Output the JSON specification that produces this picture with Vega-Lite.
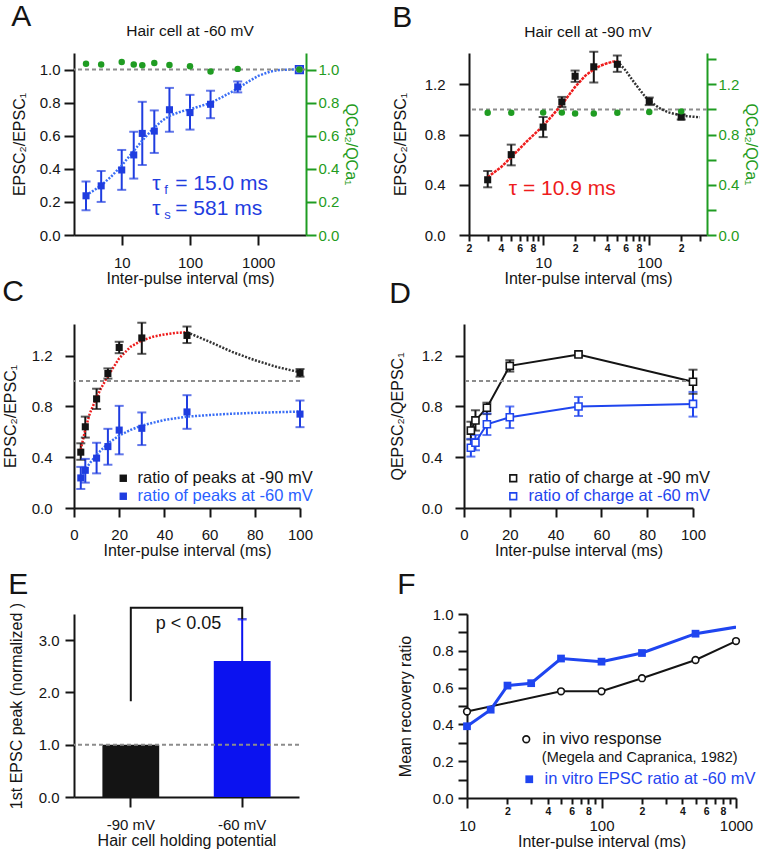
{
"$schema": "https://vega.github.io/schema/vega-lite/v6.json",
"padding": {"left": 2, "top": 2, "right": 0, "bottom": 0},
"background": "white",
"config": {
  "font": "Liberation Sans",
  "view": {"stroke": null},
  "axis": {"labelFont": "Liberation Sans", "titleFont": "Liberation Sans", "labelFontSize": 15, "titleFontSize": 16, "titleFontWeight": "normal", "labelColor": "#141414", "titleColor": "#141414", "domainColor": "#141414", "tickColor": "#141414", "domainWidth": 2, "tickWidth": 2, "tickSize": 9, "labelPadding": 4, "titlePadding": 10, "grid": false, "labelOverlap": false, "labelFlush": false, "labelBound": false},
  "title": {"font": "Liberation Sans", "fontSize": 30, "fontWeight": "normal", "anchor": "start", "color": "#141414", "offset": -2},
  "legend": {"labelFont": "Liberation Sans", "labelFontSize": 16.5, "padding": 0, "labelLimit": 400, "title": null, "symbolSize": 55},
  "text": {"font": "Liberation Sans"}
},
"datasets": {
  "peaks": [
    {"ipi": 3, "r": 0.44, "lo": 0.38, "hi": 0.51, "s": "ratio of peaks at -90 mV"},
    {"ipi": 5, "r": 0.64, "lo": 0.555, "hi": 0.72, "s": "ratio of peaks at -90 mV"},
    {"ipi": 10, "r": 0.86, "lo": 0.78, "hi": 0.94, "s": "ratio of peaks at -90 mV"},
    {"ipi": 15, "r": 1.06, "lo": 1.02, "hi": 1.1, "s": "ratio of peaks at -90 mV"},
    {"ipi": 20, "r": 1.265, "lo": 1.22, "hi": 1.31, "s": "ratio of peaks at -90 mV"},
    {"ipi": 30, "r": 1.34, "lo": 1.215, "hi": 1.46, "s": "ratio of peaks at -90 mV"},
    {"ipi": 50, "r": 1.36, "lo": 1.3, "hi": 1.43, "s": "ratio of peaks at -90 mV"},
    {"ipi": 100, "r": 1.065, "lo": 1.035, "hi": 1.095, "s": "ratio of peaks at -90 mV"},
    {"ipi": 200, "r": 0.94, "lo": 0.92, "hi": 0.96, "s": "ratio of peaks at -90 mV"},
    {"ipi": 3, "r": 0.237, "lo": 0.15, "hi": 0.324, "s": "ratio of peaks at -60 mV"},
    {"ipi": 5, "r": 0.297, "lo": 0.2, "hi": 0.387, "s": "ratio of peaks at -60 mV"},
    {"ipi": 10, "r": 0.393, "lo": 0.273, "hi": 0.514, "s": "ratio of peaks at -60 mV"},
    {"ipi": 15, "r": 0.484, "lo": 0.341, "hi": 0.624, "s": "ratio of peaks at -60 mV"},
    {"ipi": 20, "r": 0.614, "lo": 0.423, "hi": 0.805, "s": "ratio of peaks at -60 mV"},
    {"ipi": 30, "r": 0.628, "lo": 0.496, "hi": 0.753, "s": "ratio of peaks at -60 mV"},
    {"ipi": 50, "r": 0.757, "lo": 0.624, "hi": 0.889, "s": "ratio of peaks at -60 mV"},
    {"ipi": 100, "r": 0.74, "lo": 0.637, "hi": 0.847, "s": "ratio of peaks at -60 mV"},
    {"ipi": 200, "r": 0.79, "lo": 0.706, "hi": 0.872, "s": "ratio of peaks at -60 mV"},
    {"ipi": 500, "r": 0.895, "lo": 0.862, "hi": 0.928, "s": "ratio of peaks at -60 mV"}
  ],
  "qca": [
    {"cell": "-60", "ipi": 3, "q": 1.035}, {"cell": "-60", "ipi": 5, "q": 1.03}, {"cell": "-60", "ipi": 10, "q": 1.046},
    {"cell": "-60", "ipi": 15, "q": 1.031}, {"cell": "-60", "ipi": 20, "q": 1.026}, {"cell": "-60", "ipi": 30, "q": 1.04},
    {"cell": "-60", "ipi": 50, "q": 1.027}, {"cell": "-60", "ipi": 100, "q": 1.02}, {"cell": "-60", "ipi": 200, "q": 0.988},
    {"cell": "-60", "ipi": 500, "q": 1.004}, {"cell": "-60", "ipi": 4000, "q": 1.0},
    {"cell": "-90", "ipi": 3, "q": 0.974}, {"cell": "-90", "ipi": 5, "q": 0.974}, {"cell": "-90", "ipi": 10, "q": 0.975},
    {"cell": "-90", "ipi": 15, "q": 0.975}, {"cell": "-90", "ipi": 20, "q": 0.968}, {"cell": "-90", "ipi": 30, "q": 0.968},
    {"cell": "-90", "ipi": 50, "q": 0.974}, {"cell": "-90", "ipi": 100, "q": 0.98}, {"cell": "-90", "ipi": 200, "q": 0.985}
  ],
  "fits": [
    {"c": "dbl", "ipi": 3, "v": 0.24}, {"c": "dbl", "ipi": 4, "v": 0.272}, {"c": "dbl", "ipi": 5, "v": 0.3}, {"c": "dbl", "ipi": 7, "v": 0.353},
    {"c": "dbl", "ipi": 10, "v": 0.42}, {"c": "dbl", "ipi": 15, "v": 0.508}, {"c": "dbl", "ipi": 20, "v": 0.571}, {"c": "dbl", "ipi": 25, "v": 0.615},
    {"c": "dbl", "ipi": 30, "v": 0.65}, {"c": "dbl", "ipi": 40, "v": 0.694}, {"c": "dbl", "ipi": 50, "v": 0.72}, {"c": "dbl", "ipi": 60, "v": 0.733},
    {"c": "dbl", "ipi": 70, "v": 0.743}, {"c": "dbl", "ipi": 80, "v": 0.75}, {"c": "dbl", "ipi": 100, "v": 0.76}, {"c": "dbl", "ipi": 150, "v": 0.782},
    {"c": "dbl", "ipi": 200, "v": 0.798}, {"c": "dbl", "ipi": 300, "v": 0.835}, {"c": "dbl", "ipi": 500, "v": 0.885}, {"c": "dbl", "ipi": 700, "v": 0.925},
    {"c": "dbl", "ipi": 1000, "v": 0.962}, {"c": "dbl", "ipi": 1500, "v": 0.988}, {"c": "dbl", "ipi": 2000, "v": 0.997}, {"c": "dbl", "ipi": 3000, "v": 1.0},
    {"c": "dbl", "ipi": 4000, "v": 1.0},
    {"c": "rise", "ipi": 3, "v": 0.46}, {"c": "rise", "ipi": 4, "v": 0.54}, {"c": "rise", "ipi": 5, "v": 0.62}, {"c": "rise", "ipi": 7, "v": 0.745},
    {"c": "rise", "ipi": 10, "v": 0.87}, {"c": "rise", "ipi": 12, "v": 0.945}, {"c": "rise", "ipi": 15, "v": 1.04}, {"c": "rise", "ipi": 20, "v": 1.18},
    {"c": "rise", "ipi": 25, "v": 1.27}, {"c": "rise", "ipi": 30, "v": 1.32}, {"c": "rise", "ipi": 35, "v": 1.35}, {"c": "rise", "ipi": 40, "v": 1.368},
    {"c": "rise", "ipi": 45, "v": 1.38}, {"c": "rise", "ipi": 50, "v": 1.385},
    {"c": "tail", "ipi": 50, "v": 1.385}, {"c": "tail", "ipi": 60, "v": 1.31}, {"c": "tail", "ipi": 70, "v": 1.23}, {"c": "tail", "ipi": 80, "v": 1.165},
    {"c": "tail", "ipi": 90, "v": 1.11}, {"c": "tail", "ipi": 100, "v": 1.07}, {"c": "tail", "ipi": 125, "v": 1.01}, {"c": "tail", "ipi": 150, "v": 0.978},
    {"c": "tail", "ipi": 200, "v": 0.952}, {"c": "tail", "ipi": 250, "v": 0.943}, {"c": "tail", "ipi": 300, "v": 0.938}
  ],
  "charge": [
    {"ipi": 3, "r": 0.61, "lo": 0.54, "hi": 0.68, "s": "ratio of charge at -90 mV"},
    {"ipi": 5, "r": 0.69, "lo": 0.61, "hi": 0.77, "s": "ratio of charge at -90 mV"},
    {"ipi": 10, "r": 0.79, "lo": 0.74, "hi": 0.83, "s": "ratio of charge at -90 mV"},
    {"ipi": 20, "r": 1.12, "lo": 1.075, "hi": 1.165, "s": "ratio of charge at -90 mV"},
    {"ipi": 50, "r": 1.21, "lo": 1.195, "hi": 1.225, "s": "ratio of charge at -90 mV"},
    {"ipi": 100, "r": 0.995, "lo": 0.9, "hi": 1.09, "s": "ratio of charge at -90 mV"},
    {"ipi": 3, "r": 0.475, "lo": 0.405, "hi": 0.545, "s": "ratio of charge at -60 mV"},
    {"ipi": 5, "r": 0.515, "lo": 0.455, "hi": 0.575, "s": "ratio of charge at -60 mV"},
    {"ipi": 10, "r": 0.66, "lo": 0.575, "hi": 0.745, "s": "ratio of charge at -60 mV"},
    {"ipi": 20, "r": 0.715, "lo": 0.63, "hi": 0.8, "s": "ratio of charge at -60 mV"},
    {"ipi": 50, "r": 0.8, "lo": 0.725, "hi": 0.875, "s": "ratio of charge at -60 mV"},
    {"ipi": 100, "r": 0.82, "lo": 0.72, "hi": 0.915, "s": "ratio of charge at -60 mV"}
  ],
  "first": [
    {"v": "-90 mV", "peak": 1.0},
    {"v": "-60 mV", "peak": 2.6, "hi": 3.4}
  ],
  "bracket": [
    {"v": "-90 mV", "y": 1.83, "k": 1},
    {"v": "-90 mV", "y": 3.62, "k": 2},
    {"v": "-60 mV", "y": 3.62, "k": 3},
    {"v": "-60 mV", "y": 3.4, "k": 4}
  ],
  "rec": [
    {"ipi": 10, "r": 0.47, "s": "in vivo response"},
    {"ipi": 50, "r": 0.58, "s": "in vivo response"},
    {"ipi": 100, "r": 0.58, "s": "in vivo response"},
    {"ipi": 200, "r": 0.651, "s": "in vivo response"},
    {"ipi": 500, "r": 0.75, "s": "in vivo response"},
    {"ipi": 1000, "r": 0.853, "s": "in vivo response"},
    {"ipi": 10, "r": 0.39, "s": "in vitro  EPSC ratio at -60 mV"},
    {"ipi": 15, "r": 0.48, "s": "in vitro  EPSC ratio at -60 mV"},
    {"ipi": 20, "r": 0.611, "s": "in vitro  EPSC ratio at -60 mV"},
    {"ipi": 30, "r": 0.624, "s": "in vitro  EPSC ratio at -60 mV"},
    {"ipi": 50, "r": 0.758, "s": "in vitro  EPSC ratio at -60 mV"},
    {"ipi": 100, "r": 0.741, "s": "in vitro  EPSC ratio at -60 mV"},
    {"ipi": 200, "r": 0.788, "s": "in vitro  EPSC ratio at -60 mV"},
    {"ipi": 500, "r": 0.893, "s": "in vitro  EPSC ratio at -60 mV"},
    {"ipi": 4000, "r": 1.0, "s": "in vitro  EPSC ratio at -60 mV"}
  ],
  "tauA": [
    {"ipi": 28, "y": 0.31, "sym": "τ", "sub": "f", "rest": "= 15.0 ms"},
    {"ipi": 28, "y": 0.16, "sym": "τ", "sub": "s", "rest": "= 581 ms"}
  ]
},
"spacing": -10,
"resolve": {"scale": {"color": "independent"}},
"vconcat": [
{
 "spacing": 33,
 "resolve": {"scale": {"color": "independent"}},
 "hconcat": [
  {
   "title": {"text": "A", "offset": -8},
   "width": 232, "height": 182,
   "resolve": {"scale": {"y": "independent"}},
   "layer": [
    {"layer": [
      {"data": {"name": "peaks"}, "transform": [{"filter": "datum.s == 'ratio of peaks at -60 mV'"}],
       "mark": {"type": "rule", "color": "#1f3de0", "strokeWidth": 2},
       "encoding": {
         "x": {"field": "ipi", "type": "quantitative", "scale": {"type": "log", "domain": [2, 5000], "nice": false},
               "axis": {"orient": "bottom", "title": "Inter-pulse interval (ms)", "values": [10, 100, 1000], "format": "d", "tickSize": 10, "labelPadding": 10, "titlePadding": 0, "labelOverlap": false}},
         "y": {"field": "lo", "type": "quantitative", "scale": {"domain": [0, 1.1], "nice": false}, "axis": null},
         "y2": {"field": "hi"}}},
      {"data": {"name": "fits"}, "transform": [{"filter": "datum.c == 'dbl'"}],
       "mark": {"type": "line", "color": "#3a6ef5", "strokeWidth": 2.5, "strokeDash": [2, 1.5]},
       "encoding": {"x": {"field": "ipi", "type": "quantitative"}, "y": {"field": "v", "type": "quantitative", "axis": null}}},
      {"data": {"name": "peaks"}, "transform": [{"filter": "datum.s == 'ratio of peaks at -60 mV'"}, {"fold": ["lo", "hi"], "as": ["end", "val"]}],
       "mark": {"type": "tick", "orient": "horizontal", "color": "#1f3de0", "size": 9, "thickness": 2},
       "encoding": {"x": {"field": "ipi", "type": "quantitative"}, "y": {"field": "val", "type": "quantitative", "axis": null}}},
      {"data": {"name": "peaks"}, "transform": [{"filter": "datum.s == 'ratio of peaks at -60 mV'"}],
       "mark": {"type": "point", "shape": "square", "filled": true, "size": 50, "color": "#1f3de0", "opacity": 1},
       "encoding": {"x": {"field": "ipi", "type": "quantitative"}, "y": {"field": "r", "type": "quantitative", "axis": null}}},
      {"data": {"values": [{"ipi": 4000, "r": 1.0}]},
       "mark": {"type": "point", "shape": "square", "filled": false, "size": 55, "color": "#1f3de0", "strokeWidth": 1.8, "opacity": 1},
       "encoding": {"x": {"field": "ipi", "type": "quantitative"}, "y": {"field": "r", "type": "quantitative", "axis": null}}},
      {"data": {"name": "tauA"},
       "mark": {"type": "text", "align": "left", "baseline": "middle", "fontSize": 21, "color": "#1f3de0"},
       "encoding": {"x": {"field": "ipi", "type": "quantitative"}, "y": {"field": "y", "type": "quantitative", "axis": null}, "text": {"field": "sym"}}},
      {"data": {"name": "tauA"},
       "mark": {"type": "text", "align": "left", "baseline": "middle", "fontSize": 13, "dx": 12, "dy": 6, "color": "#1f3de0"},
       "encoding": {"x": {"field": "ipi", "type": "quantitative"}, "y": {"field": "y", "type": "quantitative", "axis": null}, "text": {"field": "sub"}}},
      {"data": {"name": "tauA"},
       "mark": {"type": "text", "align": "left", "baseline": "middle", "fontSize": 21, "dx": 23, "color": "#1f3de0"},
       "encoding": {"x": {"field": "ipi", "type": "quantitative"}, "y": {"field": "y", "type": "quantitative", "axis": null}, "text": {"field": "rest"}}},
      {"data": {"values": [{"ipi": 100, "y": 1.23, "t": "Hair cell at -60 mV"}]},
       "mark": {"type": "text", "align": "center", "baseline": "middle", "fontSize": 15.5, "color": "#141414"},
       "encoding": {"x": {"field": "ipi", "type": "quantitative"}, "y": {"field": "y", "type": "quantitative", "axis": null}, "text": {"field": "t"}}}
    ]},
    {"data": {"values": [{}]}, "mark": {"type": "rule", "color": "#8c8c8c", "strokeDash": [4, 3], "strokeWidth": 2},
     "encoding": {"y": {"datum": 1, "type": "quantitative", "scale": {"domain": [0, 1.1], "nice": false},
       "axis": {"orient": "left", "title": "EPSC₂/EPSC₁", "values": [0, 0.2, 0.4, 0.6, 0.8, 1.0], "format": ".1f", "tickSize": 10, "labelPadding": 4, "titlePadding": 12, "labelOverlap": false}}}},
    {"data": {"name": "qca"}, "transform": [{"filter": "datum.cell == '-60'"}],
     "mark": {"type": "circle", "color": "#1f9c22", "size": 42, "opacity": 1},
     "encoding": {
       "x": {"field": "ipi", "type": "quantitative"},
       "y": {"field": "q", "type": "quantitative", "scale": {"domain": [0, 1.1], "nice": false},
             "axis": {"orient": "right", "title": "QCa₂/QCa₁", "values": [0, 0.2, 0.4, 0.6, 0.8, 1.0], "format": ".1f", "labelColor": "#1f9c22", "titleColor": "#1f9c22", "domainColor": "#1f9c22", "tickColor": "#1f9c22", "tickSize": 10, "labelPadding": 2, "titlePadding": 4, "labelOverlap": false}}}}
   ]
  },
  {
   "title": {"text": "B", "offset": -8},
   "width": 238, "height": 182,
   "resolve": {"scale": {"y": "independent"}},
   "layer": [
    {"layer": [
      {"data": {"name": "peaks"}, "transform": [{"filter": "datum.s == 'ratio of peaks at -90 mV'"}],
       "mark": {"type": "rule", "color": "#141414", "strokeWidth": 2},
       "encoding": {
         "x": {"field": "ipi", "type": "quantitative", "scale": {"type": "log", "domain": [2, 350], "nice": false},
               "axis": {"orient": "bottom", "title": "Inter-pulse interval (ms)", "labelOverlap": false,
               "values": [2, 3, 4, 5, 6, 7, 8, 9, 10, 20, 30, 40, 50, 60, 70, 80, 90, 100, 200, 300],
               "labelExpr": "indexof([10,100,1000], datum.value) >= 0 ? format(datum.value, 'd') : (indexof([2,4,6,8,20,40,60,80,200,400,600,800], datum.value) >= 0 ? format(datum.value < 10 ? datum.value : (datum.value < 100 ? datum.value / 10 : datum.value / 100), 'd') : '')",
               "tickSize": {"condition": {"test": "indexof([10,100,1000], datum.value) >= 0", "value": 10}, "value": 6},
               "labelFontSize": {"condition": {"test": "indexof([10,100,1000], datum.value) >= 0", "value": 15}, "value": 10.5},
               "labelFontWeight": {"condition": {"test": "indexof([10,100,1000], datum.value) >= 0", "value": "normal"}, "value": "bold"},
               "labelPadding": {"condition": {"test": "indexof([10,100,1000], datum.value) >= 0", "value": 10}, "value": 2},
               "titlePadding": 0}},
         "y": {"field": "lo", "type": "quantitative", "scale": {"domain": [0, 1.45], "nice": false},
               "axis": {"orient": "left", "title": "EPSC₂/EPSC₁", "values": [0, 0.2, 0.4, 0.6, 0.8, 1.0, 1.2, 1.4], "labelOverlap": false,
               "labelExpr": "round(datum.value * 10) % 4 == 0 ? format(datum.value, '.1f') : ''", "tickSize": 10, "labelPadding": 14, "titlePadding": 16}},
         "y2": {"field": "hi"}}},
      {"data": {"values": [{}]}, "mark": {"type": "rule", "color": "#8c8c8c", "strokeDash": [4, 3], "strokeWidth": 2},
       "encoding": {"y": {"datum": 1, "type": "quantitative"}}},
      {"data": {"name": "fits"}, "transform": [{"filter": "datum.c == 'tail'"}],
       "mark": {"type": "line", "color": "#333333", "strokeWidth": 2.5, "strokeDash": [2, 1.5]},
       "encoding": {"x": {"field": "ipi", "type": "quantitative"}, "y": {"field": "v", "type": "quantitative"}}},
      {"data": {"name": "fits"}, "transform": [{"filter": "datum.c == 'rise'"}],
       "mark": {"type": "line", "color": "#ee1c1c", "strokeWidth": 2.5, "strokeDash": [3, 1]},
       "encoding": {"x": {"field": "ipi", "type": "quantitative"}, "y": {"field": "v", "type": "quantitative"}}},
      {"data": {"name": "peaks"}, "transform": [{"filter": "datum.s == 'ratio of peaks at -90 mV'"}, {"fold": ["lo", "hi"], "as": ["end", "val"]}],
       "mark": {"type": "tick", "orient": "horizontal", "color": "#141414", "size": 9, "thickness": 2},
       "encoding": {"x": {"field": "ipi", "type": "quantitative"}, "y": {"field": "val", "type": "quantitative"}}},
      {"data": {"name": "peaks"}, "transform": [{"filter": "datum.s == 'ratio of peaks at -90 mV'"}],
       "mark": {"type": "point", "shape": "square", "filled": true, "size": 50, "color": "#141414", "opacity": 1},
       "encoding": {"x": {"field": "ipi", "type": "quantitative"}, "y": {"field": "r", "type": "quantitative"}}},
      {"data": {"values": [{"ipi": 4.75, "y": 0.37, "t": "τ = 10.9 ms"}]},
       "mark": {"type": "text", "align": "left", "baseline": "middle", "fontSize": 21, "color": "#ee1c1c"},
       "encoding": {"x": {"field": "ipi", "type": "quantitative"}, "y": {"field": "y", "type": "quantitative"}, "text": {"field": "t"}}},
      {"data": {"values": [{"ipi": 26.5, "y": 1.62, "t": "Hair cell at -90 mV"}]},
       "mark": {"type": "text", "align": "center", "baseline": "middle", "fontSize": 15.5, "color": "#141414"},
       "encoding": {"x": {"field": "ipi", "type": "quantitative"}, "y": {"field": "y", "type": "quantitative"}, "text": {"field": "t"}}}
    ]},
    {"data": {"name": "qca"}, "transform": [{"filter": "datum.cell == '-90'"}],
     "mark": {"type": "circle", "color": "#1f9c22", "size": 42, "opacity": 1},
     "encoding": {
       "x": {"field": "ipi", "type": "quantitative"},
       "y": {"field": "q", "type": "quantitative", "scale": {"domain": [0, 1.45], "nice": false},
             "axis": {"orient": "right", "title": "QCa₂/QCa₁", "values": [0, 0.2, 0.4, 0.6, 0.8, 1.0, 1.2, 1.4], "labelOverlap": false,
                      "labelExpr": "round(datum.value * 10) % 4 == 0 ? format(datum.value, '.1f') : ''",
                      "labelColor": "#1f9c22", "titleColor": "#1f9c22", "domainColor": "#1f9c22", "tickColor": "#1f9c22", "tickSize": 9, "labelPadding": 2, "titlePadding": 4}}}}
   ]
  }
 ]
},
{
 "spacing": 12,
 "resolve": {"scale": {"color": "independent"}},
 "vconcat": [
  {
   "spacing": 76,
   "resolve": {"scale": {"color": "independent"}},
   "hconcat": [
    {
     "title": {"text": "C", "offset": 15},
     "width": 226, "height": 184,
     "resolve": {"scale": {"color": "independent"}},
     "layer": [
      {"data": {"name": "peaks"}, "transform": [{"filter": "datum.ipi <= 100 && datum.s == 'ratio of peaks at -90 mV'"}],
       "mark": {"type": "rule", "color": "#141414", "strokeWidth": 2},
       "encoding": {
         "x": {"field": "ipi", "type": "quantitative", "scale": {"domain": [0, 100], "nice": false},
               "axis": {"orient": "bottom", "title": "Inter-pulse interval (ms)", "values": [0, 10, 20, 30, 40, 50, 60, 70, 80, 90, 100], "labelOverlap": false,
               "labelExpr": "datum.value % 20 == 0 ? datum.label : ''", "tickSize": 9, "labelPadding": 10, "titlePadding": 0}},
         "y": {"field": "lo", "type": "quantitative", "scale": {"domain": [0, 1.45], "nice": false},
               "axis": {"orient": "left", "title": "EPSC₂/EPSC₁", "values": [0, 0.2, 0.4, 0.6, 0.8, 1.0, 1.2, 1.4], "labelOverlap": false,
               "labelExpr": "round(datum.value * 10) % 4 == 0 ? format(datum.value, '.1f') : ''", "tickSize": 9, "labelPadding": 13, "titlePadding": 13}},
         "y2": {"field": "hi"}}},
      {"data": {"name": "peaks"}, "transform": [{"filter": "datum.ipi <= 100 && datum.s == 'ratio of peaks at -60 mV'"}],
       "mark": {"type": "rule", "color": "#1f3de0", "strokeWidth": 2},
       "encoding": {"x": {"field": "ipi", "type": "quantitative"}, "y": {"field": "lo", "type": "quantitative"}, "y2": {"field": "hi"}}},
      {"data": {"values": [{}]}, "mark": {"type": "rule", "color": "#8c8c8c", "strokeDash": [4, 3], "strokeWidth": 2},
       "encoding": {"y": {"datum": 1, "type": "quantitative"}}},
      {"data": {"name": "fits"}, "transform": [{"filter": "datum.c == 'dbl' && datum.ipi <= 100"}],
       "mark": {"type": "line", "color": "#3a6ef5", "strokeWidth": 2.5, "strokeDash": [2, 1.5]},
       "encoding": {"x": {"field": "ipi", "type": "quantitative"}, "y": {"field": "v", "type": "quantitative"}}},
      {"data": {"name": "fits"}, "transform": [{"filter": "datum.c == 'rise'"}],
       "mark": {"type": "line", "color": "#ee1c1c", "strokeWidth": 2.5, "strokeDash": [2, 1.5]},
       "encoding": {"x": {"field": "ipi", "type": "quantitative"}, "y": {"field": "v", "type": "quantitative"}}},
      {"data": {"name": "fits"}, "transform": [{"filter": "datum.c == 'tail' && datum.ipi <= 100"}],
       "mark": {"type": "line", "color": "#333333", "strokeWidth": 2.5, "strokeDash": [2, 1.5]},
       "encoding": {"x": {"field": "ipi", "type": "quantitative"}, "y": {"field": "v", "type": "quantitative"}}},
      {"data": {"name": "peaks"}, "transform": [{"filter": "datum.ipi <= 100 && datum.s == 'ratio of peaks at -90 mV'"}, {"fold": ["lo", "hi"], "as": ["end", "val"]}],
       "mark": {"type": "tick", "orient": "horizontal", "color": "#141414", "size": 9, "thickness": 2},
       "encoding": {"x": {"field": "ipi", "type": "quantitative"}, "y": {"field": "val", "type": "quantitative"}}},
      {"data": {"name": "peaks"}, "transform": [{"filter": "datum.ipi <= 100 && datum.s == 'ratio of peaks at -60 mV'"}, {"fold": ["lo", "hi"], "as": ["end", "val"]}],
       "mark": {"type": "tick", "orient": "horizontal", "color": "#1f3de0", "size": 9, "thickness": 2},
       "encoding": {"x": {"field": "ipi", "type": "quantitative"}, "y": {"field": "val", "type": "quantitative"}}},
      {"data": {"name": "peaks"}, "transform": [{"filter": "datum.ipi <= 100 && datum.s == 'ratio of peaks at -90 mV'"}],
       "mark": {"type": "point", "shape": "square", "filled": true, "size": 50, "opacity": 1},
       "encoding": {"x": {"field": "ipi", "type": "quantitative"}, "y": {"field": "r", "type": "quantitative"},
         "color": {"field": "s", "type": "nominal", "scale": {"domain": ["ratio of peaks at -90 mV"], "range": ["#141414"]},
                   "legend": {"orient": "none", "legendX": 41, "legendY": 146, "symbolType": "square", "symbolStrokeWidth": 0, "labelOffset": 6, "labelColor": "#141414"}}}},
      {"data": {"name": "peaks"}, "transform": [{"filter": "datum.ipi <= 100 && datum.s == 'ratio of peaks at -60 mV'"}],
       "mark": {"type": "point", "shape": "square", "filled": true, "size": 50, "opacity": 1},
       "encoding": {"x": {"field": "ipi", "type": "quantitative"}, "y": {"field": "r", "type": "quantitative"},
         "color": {"field": "s", "type": "nominal", "scale": {"domain": ["ratio of peaks at -60 mV"], "range": ["#1f3de0"]},
                   "legend": {"orient": "none", "legendX": 41, "legendY": 164, "symbolType": "square", "symbolStrokeWidth": 0, "labelOffset": 6, "labelColor": "#2a5fff"}}}}
     ]
    },
    {
     "title": {"text": "D", "offset": 15},
     "width": 229, "height": 184,
     "resolve": {"scale": {"color": "independent"}},
     "layer": [
      {"data": {"name": "charge"}, "transform": [{"filter": "datum.s == 'ratio of charge at -90 mV'"}],
       "mark": {"type": "line", "color": "#141414", "strokeWidth": 2},
       "encoding": {
         "x": {"field": "ipi", "type": "quantitative", "scale": {"domain": [0, 100], "nice": false},
               "axis": {"orient": "bottom", "title": "Inter-pulse interval (ms)", "values": [0, 10, 20, 30, 40, 50, 60, 70, 80, 90, 100], "labelOverlap": false,
               "labelExpr": "datum.value % 20 == 0 ? datum.label : ''", "tickSize": 9, "labelPadding": 10, "titlePadding": 0}},
         "y": {"field": "r", "type": "quantitative", "scale": {"domain": [0, 1.45], "nice": false},
               "axis": {"orient": "left", "title": "QEPSC₂/QEPSC₁", "values": [0, 0.2, 0.4, 0.6, 0.8, 1.0, 1.2, 1.4], "labelOverlap": false,
               "labelExpr": "round(datum.value * 10) % 4 == 0 ? format(datum.value, '.1f') : ''", "tickSize": 9, "labelPadding": 13, "titlePadding": 16}}}},
      {"data": {"name": "charge"}, "transform": [{"filter": "datum.s == 'ratio of charge at -60 mV'"}],
       "mark": {"type": "line", "color": "#1f45ee", "strokeWidth": 2},
       "encoding": {"x": {"field": "ipi", "type": "quantitative"}, "y": {"field": "r", "type": "quantitative"}}},
      {"data": {"values": [{}]}, "mark": {"type": "rule", "color": "#8c8c8c", "strokeDash": [4, 3], "strokeWidth": 2},
       "encoding": {"y": {"datum": 1, "type": "quantitative"}}},
      {"data": {"name": "charge"}, "transform": [{"filter": "datum.s == 'ratio of charge at -90 mV'"}],
       "mark": {"type": "rule", "color": "#141414", "strokeWidth": 2},
       "encoding": {"x": {"field": "ipi", "type": "quantitative"}, "y": {"field": "lo", "type": "quantitative"}, "y2": {"field": "hi"}}},
      {"data": {"name": "charge"}, "transform": [{"filter": "datum.s == 'ratio of charge at -60 mV'"}],
       "mark": {"type": "rule", "color": "#1f45ee", "strokeWidth": 2},
       "encoding": {"x": {"field": "ipi", "type": "quantitative"}, "y": {"field": "lo", "type": "quantitative"}, "y2": {"field": "hi"}}},
      {"data": {"name": "charge"}, "transform": [{"filter": "datum.s == 'ratio of charge at -90 mV'"}, {"fold": ["lo", "hi"], "as": ["end", "val"]}],
       "mark": {"type": "tick", "orient": "horizontal", "color": "#141414", "size": 9, "thickness": 2},
       "encoding": {"x": {"field": "ipi", "type": "quantitative"}, "y": {"field": "val", "type": "quantitative"}}},
      {"data": {"name": "charge"}, "transform": [{"filter": "datum.s == 'ratio of charge at -60 mV'"}, {"fold": ["lo", "hi"], "as": ["end", "val"]}],
       "mark": {"type": "tick", "orient": "horizontal", "color": "#1f45ee", "size": 9, "thickness": 2},
       "encoding": {"x": {"field": "ipi", "type": "quantitative"}, "y": {"field": "val", "type": "quantitative"}}},
      {"data": {"name": "charge"}, "transform": [{"filter": "datum.s == 'ratio of charge at -90 mV'"}],
       "mark": {"type": "point", "shape": "square", "filled": false, "fill": "white", "size": 50, "strokeWidth": 1.6, "opacity": 1},
       "encoding": {"x": {"field": "ipi", "type": "quantitative"}, "y": {"field": "r", "type": "quantitative"},
         "color": {"field": "s", "type": "nominal", "scale": {"domain": ["ratio of charge at -90 mV"], "range": ["#141414"]},
                   "legend": {"orient": "none", "legendX": 41, "legendY": 146, "symbolType": "square", "symbolSize": 45, "symbolStrokeWidth": 1.6, "symbolFillColor": "white", "labelOffset": 7, "labelColor": "#141414"}}}},
      {"data": {"name": "charge"}, "transform": [{"filter": "datum.s == 'ratio of charge at -60 mV'"}],
       "mark": {"type": "point", "shape": "square", "filled": false, "fill": "white", "size": 50, "strokeWidth": 1.6, "opacity": 1},
       "encoding": {"x": {"field": "ipi", "type": "quantitative"}, "y": {"field": "r", "type": "quantitative"},
         "color": {"field": "s", "type": "nominal", "scale": {"domain": ["ratio of charge at -60 mV"], "range": ["#1f45ee"]},
                   "legend": {"orient": "none", "legendX": 41, "legendY": 164, "symbolType": "square", "symbolSize": 45, "symbolStrokeWidth": 1.6, "symbolFillColor": "white", "labelOffset": 7, "labelColor": "#1f45ee"}}}}
     ]
    }
   ]
  },
  {
   "spacing": 97,
   "resolve": {"scale": {"color": "independent"}},
   "hconcat": [
    {
     "title": {"text": "E", "offset": 2},
     "width": 225, "height": 183,
     "layer": [
      {"data": {"name": "first"},
       "mark": {"type": "bar"},
       "encoding": {
         "x": {"field": "v", "type": "nominal", "scale": {"domain": ["-90 mV", "-60 mV"], "paddingInner": 0.49, "paddingOuter": 0.255},
               "axis": {"orient": "bottom", "title": "Hair cell holding potential", "labelAngle": 0, "tickSize": 10, "labelPadding": 10, "titlePadding": 0}},
         "y": {"field": "peak", "type": "quantitative", "scale": {"domain": [0, 3.5], "nice": false},
               "axis": {"orient": "left", "title": "1st EPSC peak (normalized )", "values": [0, 0.5, 1, 1.5, 2, 2.5, 3, 3.5], "labelOverlap": false,
                        "labelExpr": "datum.value % 1 == 0 ? format(datum.value, '.1f') : ''", "tickSize": 9, "labelPadding": 6, "titlePadding": 14}},
         "color": {"field": "v", "type": "nominal", "scale": {"domain": ["-90 mV", "-60 mV"], "range": ["#141414", "#0b12f0"]}, "legend": null}}},
      {"data": {"values": [{}]}, "mark": {"type": "rule", "color": "#8c8c8c", "strokeDash": [4, 3], "strokeWidth": 2},
       "encoding": {"y": {"datum": 1, "type": "quantitative"}}},
      {"data": {"name": "first"}, "transform": [{"filter": "datum.hi != null"}],
       "mark": {"type": "rule", "color": "#0b12f0", "strokeWidth": 2},
       "encoding": {"x": {"field": "v", "type": "nominal"}, "y": {"field": "peak", "type": "quantitative"}, "y2": {"field": "hi"}}},
      {"data": {"name": "first"}, "transform": [{"filter": "datum.hi != null"}],
       "mark": {"type": "tick", "orient": "horizontal", "color": "#0b12f0", "size": 9, "thickness": 2.5},
       "encoding": {"x": {"field": "v", "type": "nominal"}, "y": {"field": "hi", "type": "quantitative"}}},
      {"data": {"name": "bracket"},
       "mark": {"type": "line", "color": "#141414", "strokeWidth": 2},
       "encoding": {"x": {"field": "v", "type": "nominal"}, "y": {"field": "y", "type": "quantitative"}, "order": {"field": "k"}}},
      {"data": {"values": [{"v": "-90 mV", "y": 3.3, "t": "p < 0.05"}]},
       "mark": {"type": "text", "align": "left", "baseline": "middle", "dx": 25, "fontSize": 18, "color": "#141414"},
       "encoding": {"x": {"field": "v", "type": "nominal"}, "y": {"field": "y", "type": "quantitative"}, "text": {"field": "t"}}}
     ]
    },
    {
     "title": {"text": "F", "offset": 7},
     "width": 269, "height": 184,
     "resolve": {"scale": {"y": "independent"}},
     "layer": [
      {"resolve": {"scale": {"color": "independent"}},
       "layer": [
        {"data": {"name": "rec"}, "transform": [{"filter": "datum.s == 'in vivo response'"}],
         "mark": {"type": "line", "color": "#141414", "strokeWidth": 2},
         "encoding": {
           "x": {"field": "ipi", "type": "quantitative", "scale": {"type": "log", "domain": [10, 1000], "nice": false},
                 "axis": {"orient": "bottom", "title": "Inter-pulse interval (ms)", "labelOverlap": false,
                 "values": [10, 20, 30, 40, 50, 60, 70, 80, 90, 100, 200, 300, 400, 500, 600, 700, 800, 900, 1000],
                 "labelExpr": "indexof([10,100,1000], datum.value) >= 0 ? format(datum.value, 'd') : (indexof([2,4,6,8,20,40,60,80,200,400,600,800], datum.value) >= 0 ? format(datum.value < 10 ? datum.value : (datum.value < 100 ? datum.value / 10 : datum.value / 100), 'd') : '')",
                 "tickSize": {"condition": {"test": "indexof([10,100,1000], datum.value) >= 0", "value": 10}, "value": 6},
                 "labelFontSize": {"condition": {"test": "indexof([10,100,1000], datum.value) >= 0", "value": 15}, "value": 10.5},
                 "labelFontWeight": {"condition": {"test": "indexof([10,100,1000], datum.value) >= 0", "value": "normal"}, "value": "bold"},
                 "labelPadding": {"condition": {"test": "indexof([10,100,1000], datum.value) >= 0", "value": 10}, "value": 2},
                 "titlePadding": 0}},
           "y": {"field": "r", "type": "quantitative", "scale": {"domain": [0, 1], "nice": false}, "axis": null}}},
        {"data": {"name": "rec"}, "transform": [{"filter": "datum.s != 'in vivo response'"}],
         "mark": {"type": "line", "color": "#1f45f0", "strokeWidth": 3, "clip": true},
         "encoding": {"x": {"field": "ipi", "type": "quantitative"}, "y": {"field": "r", "type": "quantitative", "axis": null}}},
        {"data": {"name": "rec"}, "transform": [{"filter": "datum.s == 'in vivo response'"}],
         "mark": {"type": "point", "shape": "circle", "filled": false, "fill": "white", "size": 45, "strokeWidth": 1.6, "opacity": 1},
         "encoding": {"x": {"field": "ipi", "type": "quantitative"}, "y": {"field": "r", "type": "quantitative", "axis": null},
           "color": {"field": "s", "type": "nominal", "scale": {"domain": ["in vivo response"], "range": ["#141414"]},
                     "legend": {"orient": "none", "legendX": 51, "legendY": 117, "symbolType": "circle", "symbolSize": 45, "symbolStrokeWidth": 1.6, "symbolFillColor": "white", "labelOffset": 8, "labelColor": "#141414"}}}},
        {"data": {"name": "rec"}, "transform": [{"filter": "datum.s != 'in vivo response' && datum.ipi <= 1000"}],
         "mark": {"type": "point", "shape": "square", "filled": true, "size": 60, "opacity": 1},
         "encoding": {"x": {"field": "ipi", "type": "quantitative"}, "y": {"field": "r", "type": "quantitative", "axis": null},
           "color": {"field": "s", "type": "nominal", "scale": {"domain": ["in vitro  EPSC ratio at -60 mV"], "range": ["#1f45f0"]},
                     "legend": {"orient": "none", "legendX": 54, "legendY": 157, "symbolType": "square", "symbolSize": 60, "symbolStrokeWidth": 0, "labelOffset": 7, "labelColor": "#1f45f0"}}}},
        {"data": {"values": [{"ipi": 36, "y": 0.217, "t": "(Megela and Capranica, 1982)"}]},
         "mark": {"type": "text", "align": "left", "baseline": "middle", "fontSize": 14.5, "color": "#141414"},
         "encoding": {"x": {"field": "ipi", "type": "quantitative"}, "y": {"field": "y", "type": "quantitative", "axis": null}, "text": {"field": "t"}}}
       ]},
      {"data": {"values": [{}]}, "mark": {"type": "rule", "color": "#141414", "opacity": 0},
       "encoding": {"y": {"datum": 0, "type": "quantitative", "scale": {"domain": [0, 1], "nice": false},
         "axis": {"orient": "left", "title": "Mean recovery ratio", "values": [0, 0.1, 0.2, 0.3, 0.4, 0.5, 0.6, 0.7, 0.8, 0.9, 1.0], "labelOverlap": false,
                  "labelExpr": "round(datum.value * 10) % 2 == 0 ? format(datum.value, '.1f') : ''", "tickSize": 9, "labelPadding": 5, "titlePadding": 19}}}}
     ]
    }
   ]
  }
 ]
}
]
}
